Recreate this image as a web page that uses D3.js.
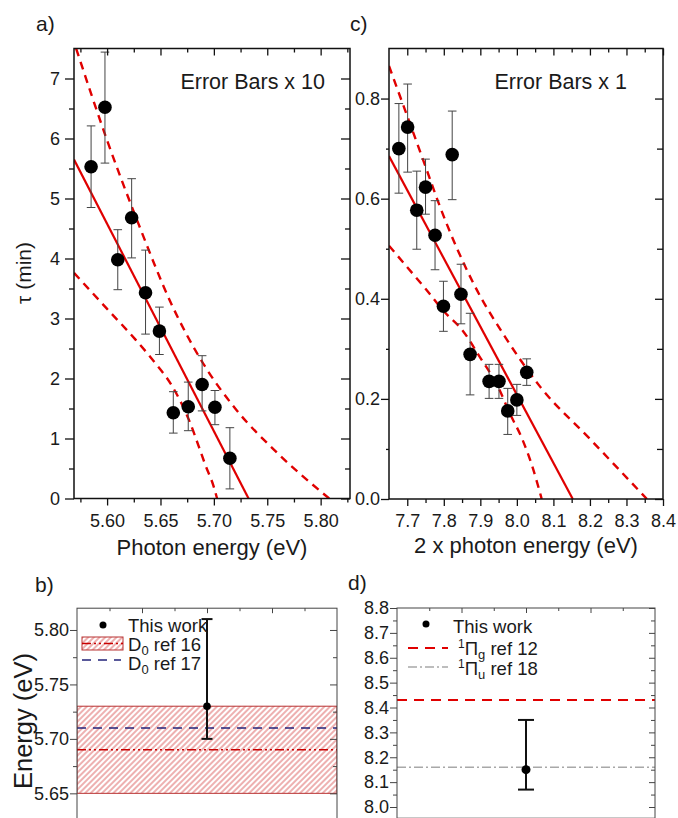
<!DOCTYPE html>
<html><head><meta charset="utf-8">
<script src="https://cdn.jsdelivr.net/npm/d3@7"></script>
<style>
body{margin:0;background:#fff}
svg{display:block}
text{font-family:"Liberation Sans",Arial,sans-serif;fill:#1a1a1a}
</style>
</head><body>
<svg id="c" width="678" height="818"></svg>
<script>
// ---------- Panel a data ----------
const energyA   = [5.585, 5.598, 5.610, 5.623, 5.636, 5.649, 5.662, 5.676, 5.689, 5.701, 5.715];
const tauA      = [5.53, 6.52, 3.98, 4.68, 3.43, 2.79, 1.43, 1.53, 1.90, 1.52, 0.67];
const tauALow   = [4.85, 5.59, 3.48, 4.01, 2.74, 2.40, 1.09, 1.13, 1.46, 1.23, 0.16];
const tauAHigh  = [6.21, 7.44, 4.48, 5.33, 4.14, 3.19, 1.78, 1.94, 2.38, 1.80, 1.18];
const fitAX     = [5.569, 5.7325];
const fitAY     = [5.65, 0];
const upperAX   = [5.571, 5.600, 5.630, 5.660, 5.690, 5.720, 5.760, 5.808];
const upperAY   = [7.50, 5.97, 4.55, 3.25, 2.25, 1.50, 0.75, 0.00];
const lowerAX   = [5.569, 5.600, 5.626, 5.645, 5.660, 5.678, 5.686, 5.692, 5.700, 5.703];
const lowerAY   = [3.76, 3.16, 2.66, 2.26, 1.90, 1.25, 0.86, 0.56, 0.19, 0.00];
const ticksAX   = [5.60, 5.65, 5.70, 5.75, 5.80];
const ticksAY   = [0, 1, 2, 3, 4, 5, 6, 7];

// ---------- Panel c data ----------
const energyC   = [7.677, 7.701, 7.726, 7.750, 7.776, 7.799, 7.823, 7.847, 7.872, 7.924, 7.951, 7.975, 8.000, 8.027];
const tauC      = [0.700, 0.743, 0.577, 0.623, 0.527, 0.385, 0.688, 0.409, 0.289, 0.235, 0.235, 0.176, 0.198, 0.253];
const tauCLow   = [0.611, 0.653, 0.499, 0.569, 0.458, 0.335, 0.598, 0.350, 0.208, 0.201, 0.201, 0.129, 0.167, 0.227];
const tauCHigh  = [0.790, 0.829, 0.655, 0.679, 0.596, 0.435, 0.775, 0.469, 0.371, 0.269, 0.269, 0.221, 0.229, 0.280];
const fitCX     = [7.65, 8.153];
const fitCY     = [0.685, 0];
const upperCX   = [7.65, 7.753, 7.789, 7.881, 7.973, 8.063, 8.20, 8.356];
const upperCY   = [0.865, 0.658, 0.585, 0.431, 0.318, 0.225, 0.120, 0.000];
const lowerCX   = [7.65, 7.70, 7.75, 7.80, 7.85, 7.90, 7.95, 7.98, 8.014, 8.041, 8.068];
const lowerCY   = [0.506, 0.463, 0.420, 0.375, 0.338, 0.282, 0.222, 0.172, 0.121, 0.068, 0.000];
const ticksCX   = [7.7, 7.8, 7.9, 8.0, 8.1, 8.2, 8.3, 8.4];
const ticksCY   = [0.0, 0.2, 0.4, 0.6, 0.8];

// ---------- Panel b data ----------
const thisWorkB    = 5.73;
const thisWorkBErr = [5.70, 5.81];
const ref16Band    = [5.65, 5.73];
const ref16Value   = 5.69;
const ref17Value   = 5.71;
const ticksBY      = [5.65, 5.70, 5.75, 5.80];

// ---------- Panel d data ----------
const thisWorkD    = 8.15;
const thisWorkDErr = [8.07, 8.35];
const ref12Value   = 8.43;
const ref18Value   = 8.16;
const ticksDY      = [8.0, 8.1, 8.2, 8.3, 8.4, 8.5, 8.6, 8.7, 8.8];

const svg = d3.select("#c");
const RED = "#e00000";
const defs = svg.append("defs");

function range(a, b, s) { const r = []; for (let v = a; v <= b + 1e-9; v += s) r.push(+v.toFixed(4)); return r; }

function axes(g, x, y, o) {
  const [xl, xr] = x.range(), [yb, yt] = y.range();
  const mk = (fn, sc, vals, size, fmt, pad, tr) => {
    const a = fn(sc).tickValues(vals).tickSizeInner(size).tickSizeOuter(0).tickPadding(pad || 3)
      .tickFormat(fmt || (() => ""));
    const s = g.append("g").attr("transform", tr).call(a);
    s.select(".domain").remove();
    s.selectAll("line").attr("stroke", o.col).attr("stroke-width", o.tw);
    s.selectAll("text").attr("font-size", o.fs).attr("fill", "#1a1a1a")
      .attr("font-family", '"Liberation Sans",Arial,sans-serif');
    return s;
  };
  if (o.xMaj) {
    mk(d3.axisBottom, x, o.xMaj, o.bMaj, o.xFmt, o.xPad, `translate(0,${yb})`);
    mk(d3.axisBottom, x, o.xMin, o.bMin, null, 3, `translate(0,${yb})`);
  }
  mk(d3.axisTop, x, o.tMajV || o.xMaj, -o.tMaj, null, 3, `translate(0,${yt})`);
  mk(d3.axisTop, x, o.tMinV || o.xMin, -o.tMin, null, 3, `translate(0,${yt})`);
  mk(d3.axisLeft, y, o.yMaj, o.lMaj, o.yFmt, o.yPad, `translate(${xl},0)`);
  mk(d3.axisLeft, y, o.yMin, o.lMin, null, 3, `translate(${xl},0)`);
  mk(d3.axisRight, y, o.yMaj, -o.rMaj, null, 3, `translate(${xr},0)`);
  mk(d3.axisRight, y, o.yMin, -o.rMin, null, 3, `translate(${xr},0)`);
  g.append("rect").attr("x", xl).attr("y", yt).attr("width", xr - xl).attr("height", yb - yt)
    .attr("fill", "none").attr("stroke", o.col).attr("stroke-width", o.fw);
}

function clip(id, x, y) {
  const [xl, xr] = x.range(), [yb, yt] = y.range();
  defs.append("clipPath").attr("id", id).append("rect")
    .attr("x", xl).attr("y", yt).attr("width", xr - xl).attr("height", yb - yt);
}

function scatterPanel(xs, ys, X, Y, lo, hi, fitX, fitY, upX, upY, lwX, lwY, id) {
  const g = svg.append("g");
  clip(id, xs, ys);
  const lg = g.append("g").attr("clip-path", `url(#${id})`);
  const line = d3.line().x(d => xs(d[0])).y(d => ys(d[1]));
  const curve = d3.line().x(d => xs(d[0])).y(d => ys(d[1])).curve(d3.curveMonotoneX);
  lg.append("path").datum(fitX.map((v, i) => [v, fitY[i]])).attr("d", line)
    .attr("fill", "none").attr("stroke", RED).attr("stroke-width", 2.2);
  lg.append("path").datum(upX.map((v, i) => [v, upY[i]])).attr("d", curve)
    .attr("fill", "none").attr("stroke", RED).attr("stroke-width", 2.4).attr("stroke-dasharray", "8,6");
  lg.append("path").datum(lwX.map((v, i) => [v, lwY[i]])).attr("d", curve)
    .attr("fill", "none").attr("stroke", RED).attr("stroke-width", 2.4).attr("stroke-dasharray", "8,6");
  const eb = g.append("g").attr("stroke", "#444").attr("stroke-width", 1);
  X.forEach((v, i) => {
    const cx = xs(v);
    eb.append("line").attr("x1", cx).attr("x2", cx).attr("y1", ys(lo[i])).attr("y2", ys(hi[i]));
    eb.append("line").attr("x1", cx - 4.3).attr("x2", cx + 4.3).attr("y1", ys(lo[i])).attr("y2", ys(lo[i]));
    eb.append("line").attr("x1", cx - 4.3).attr("x2", cx + 4.3).attr("y1", ys(hi[i])).attr("y2", ys(hi[i]));
  });
  g.selectAll("circle.pt").data(X).join("circle").attr("class", "pt")
    .attr("cx", d => xs(d)).attr("cy", (d, i) => ys(Y[i])).attr("r", 6.8).attr("fill", "#000");
  return g;
}

// ================= Panel a =================
const xA = d3.scaleLinear().domain([5.569, 5.8275]).range([74, 350]);
const yA = d3.scaleLinear().domain([0, 7.5]).range([498.5, 48.5]);
scatterPanel(xA, yA, energyA, tauA, tauALow, tauAHigh, fitAX, fitAY, upperAX, upperAY, lowerAX, lowerAY, "clipA");
axes(svg.append("g"), xA, yA, {
  col: "#111", tw: 1.3, fw: 1.5, fs: 18,
  xMaj: ticksAX, xMin: range(5.575, 5.825, 0.05), xFmt: d3.format(".2f"), xPad: 8.5, bMaj: 7, bMin: 4,
  tMaj: 7, tMin: 4,
  yMaj: ticksAY, yMin: range(0.5, 6.5, 1), yFmt: d3.format("d"), yPad: 5, lMaj: 9, lMin: 5, rMaj: 9, rMin: 5
});

// ================= Panel c =================
const xC = d3.scaleLinear().domain([7.65, 8.4]).range([389, 663]);
const yC = d3.scaleLinear().domain([0, 0.9]).range([499, 48.5]);
scatterPanel(xC, yC, energyC, tauC, tauCLow, tauCHigh, fitCX, fitCY, upperCX, upperCY, lowerCX, lowerCY, "clipC");
axes(svg.append("g"), xC, yC, {
  col: "#111", tw: 1.3, fw: 1.5, fs: 18,
  xMaj: ticksCX, xMin: range(7.75, 8.35, 0.1), xFmt: d3.format(".1f"), xPad: 8.5, bMaj: 7, bMin: 4,
  tMaj: 7, tMin: 4,
  yMaj: ticksCY, yMin: [0.1, 0.3, 0.5, 0.7], yFmt: d3.format(".1f"), yPad: 1, lMaj: 8, lMin: 3, rMaj: 8, rMin: 6
});

// ================= Panel b =================
const xB = d3.scaleLinear().domain([0, 4]).range([77, 337]);
const yB = d3.scaleLinear().domain([5.62, 5.82]).range([826, 608.2]);
const pat = defs.append("pattern").attr("id", "hatch").attr("patternUnits", "userSpaceOnUse")
  .attr("width", 4).attr("height", 4).attr("patternTransform", "rotate(45)");
pat.append("line").attr("x1", 1).attr("y1", 0).attr("x2", 1).attr("y2", 4)
  .attr("stroke", "#d85050").attr("stroke-width", 0.9).attr("fill", "none");
const gB = svg.append("g");
clip("clipB", xB, yB);
const gBc = gB.append("g").attr("clip-path", "url(#clipB)");
gBc.append("rect").attr("x", xB(0)).attr("width", xB(4) - xB(0))
  .attr("y", yB(ref16Band[1])).attr("height", yB(ref16Band[0]) - yB(ref16Band[1]))
  .attr("fill", "url(#hatch)").attr("stroke", "#b83232").attr("stroke-width", 1);
gBc.append("line").attr("x1", xB(0)).attr("x2", xB(4)).attr("y1", yB(ref16Value)).attr("y2", yB(ref16Value))
  .attr("stroke", "#c80000").attr("stroke-width", 1.5).attr("stroke-dasharray", "9,3,2,3,2,3");
gBc.append("line").attr("x1", xB(0)).attr("x2", xB(4)).attr("y1", yB(ref17Value)).attr("y2", yB(ref17Value))
  .attr("stroke", "#23237a").attr("stroke-width", 1.5).attr("stroke-dasharray", "9,7");
{
  const cx = xB(2);
  const e = gB.append("g").attr("stroke", "#111").attr("stroke-width", 2);
  e.append("line").attr("x1", cx).attr("x2", cx).attr("y1", yB(thisWorkBErr[0])).attr("y2", yB(thisWorkBErr[1]));
  e.append("line").attr("x1", cx - 5.5).attr("x2", cx + 5.5).attr("y1", yB(thisWorkBErr[0])).attr("y2", yB(thisWorkBErr[0]));
  e.append("line").attr("x1", cx - 5.5).attr("x2", cx + 5.5).attr("y1", yB(thisWorkBErr[1])).attr("y2", yB(thisWorkBErr[1]));
  gB.append("circle").attr("cx", cx).attr("cy", yB(thisWorkB)).attr("r", 3.8).attr("fill", "#000");
}
axes(svg.append("g"), xB, yB, {
  col: "#444", tw: 1, fw: 1, fs: 18,
  tMajV: [1, 2, 3], tMinV: [0.5, 1.5, 2.5, 3.5], tMaj: 5, tMin: 3,
  yMaj: ticksBY, yMin: [5.625, 5.675, 5.725, 5.775], yFmt: d3.format(".2f"), yPad: 1, lMaj: 7, lMin: 4, rMaj: 7, rMin: 4
});
// legend b
const LF = 18.5;
gB.append("circle").attr("cx", 103).attr("cy", 625).attr("r", 3.5).attr("fill", "#000");
gB.append("text").attr("x", 128).attr("y", 632).attr("font-size", LF).text("This work");
gB.append("rect").attr("x", 82).attr("y", 637).attr("width", 41).attr("height", 13)
  .attr("fill", "url(#hatch)").attr("stroke", "#b83232").attr("stroke-width", 1);
gB.append("line").attr("x1", 82).attr("x2", 123).attr("y1", 643.5).attr("y2", 643.5)
  .attr("stroke", "#c80000").attr("stroke-width", 1.5).attr("stroke-dasharray", "9,3,2,3,2,3");
{
  const t = gB.append("text").attr("x", 128).attr("y", 651).attr("font-size", LF);
  t.append("tspan").text("D");
  t.append("tspan").attr("font-size", 13).attr("dy", 4).text("0");
  t.append("tspan").attr("dy", -4).text(" ref 16");
}
gB.append("line").attr("x1", 82).attr("x2", 121).attr("y1", 660).attr("y2", 660)
  .attr("stroke", "#23237a").attr("stroke-width", 1.5).attr("stroke-dasharray", "9,7");
{
  const t = gB.append("text").attr("x", 128).attr("y", 670).attr("font-size", LF);
  t.append("tspan").text("D");
  t.append("tspan").attr("font-size", 13).attr("dy", 4).text("0");
  t.append("tspan").attr("dy", -4).text(" ref 17");
}

// ================= Panel d =================
const xD = d3.scaleLinear().domain([0, 4]).range([397, 655]);
const yD = d3.scaleLinear().domain([7.955, 8.8]).range([818.2, 608]);
const gD = svg.append("g");
gD.append("line").attr("x1", xD(0)).attr("x2", xD(4)).attr("y1", yD(ref12Value)).attr("y2", yD(ref12Value))
  .attr("stroke", RED).attr("stroke-width", 2).attr("stroke-dasharray", "10,7");
gD.append("line").attr("x1", xD(0)).attr("x2", xD(4)).attr("y1", yD(ref18Value)).attr("y2", yD(ref18Value))
  .attr("stroke", "#a8a8a8").attr("stroke-width", 1.5).attr("stroke-dasharray", "9,3,2,3");
{
  const cx = xD(2);
  const e = gD.append("g").attr("stroke", "#111").attr("stroke-width", 2);
  e.append("line").attr("x1", cx).attr("x2", cx).attr("y1", yD(thisWorkDErr[0])).attr("y2", yD(thisWorkDErr[1]));
  e.append("line").attr("x1", cx - 8).attr("x2", cx + 8).attr("y1", yD(thisWorkDErr[0])).attr("y2", yD(thisWorkDErr[0]));
  e.append("line").attr("x1", cx - 8).attr("x2", cx + 8).attr("y1", yD(thisWorkDErr[1])).attr("y2", yD(thisWorkDErr[1]));
  gD.append("circle").attr("cx", cx).attr("cy", yD(thisWorkD)).attr("r", 4.5).attr("fill", "#000");
}
axes(svg.append("g"), xD, yD, {
  col: "#444", tw: 1, fw: 1, fs: 18,
  tMajV: [1, 2, 3], tMinV: [0.5, 1.5, 2.5, 3.5], tMaj: 5, tMin: 3,
  yMaj: ticksDY, yMin: range(8.05, 8.75, 0.1), yFmt: d3.format(".1f"), yPad: 1, lMaj: 7, lMin: 4, rMaj: 6, rMin: 4
});
// legend d
gD.append("circle").attr("cx", 426).attr("cy", 624).attr("r", 3.5).attr("fill", "#000");
gD.append("text").attr("x", 453).attr("y", 633).attr("font-size", LF).text("This work");
gD.append("line").attr("x1", 408).attr("x2", 448).attr("y1", 648).attr("y2", 648)
  .attr("stroke", RED).attr("stroke-width", 2).attr("stroke-dasharray", "10,7");
{
  const t = gD.append("text").attr("x", 458).attr("y", 655).attr("font-size", LF);
  t.append("tspan").attr("font-size", 12).attr("dy", -7).text("1");
  t.append("tspan").attr("dy", 7).text("Π");
  t.append("tspan").attr("font-size", 13).attr("dy", 4).text("g");
  t.append("tspan").attr("dy", -4).text(" ref 12");
}
gD.append("line").attr("x1", 408).attr("x2", 448).attr("y1", 667).attr("y2", 667)
  .attr("stroke", "#a8a8a8").attr("stroke-width", 1.5).attr("stroke-dasharray", "9,3,2,3");
{
  const t = gD.append("text").attr("x", 458).attr("y", 675).attr("font-size", LF);
  t.append("tspan").attr("font-size", 12).attr("dy", -7).text("1");
  t.append("tspan").attr("dy", 7).text("Π");
  t.append("tspan").attr("font-size", 13).attr("dy", 4).text("u");
  t.append("tspan").attr("dy", -4).text(" ref 18");
}

// ================= Labels =================
const L = (x, y, s, fs, anchor, rot) => {
  const t = svg.append("text").attr("font-size", fs).attr("text-anchor", anchor || "start").text(s);
  if (rot) t.attr("transform", `translate(${x},${y}) rotate(${rot})`); else t.attr("x", x).attr("y", y);
  return t;
};
L(36, 31, "a)", 21);
L(350, 31, "c)", 21);
L(35, 592, "b)", 21);
L(348, 590, "d)", 21);
L(325, 89, "Error Bars x 10", 21.5, "end");
L(627, 89, "Error Bars x 1", 21.5, "end");
L(212, 555, "Photon energy (eV)", 22, "middle");
L(526, 553, "2 x photon energy (eV)", 22, "middle");
L(31, 273, "τ (min)", 21, "middle", -90);
L(32, 721, "Energy (eV)", 25.5, "middle", -90);
</script>
</body></html>
